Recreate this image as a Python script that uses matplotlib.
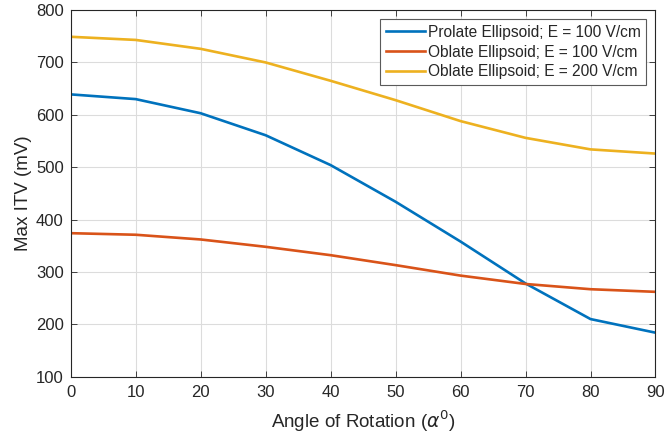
import numpy as np
import matplotlib.pyplot as plt

plt.rcParams['font.family'] = ['Liberation Sans', 'DejaVu Sans']

# rotation angle (degrees) and max induced transmembrane voltage (mV)
angle = [0, 10, 20, 30, 40, 50, 60, 70, 80, 90]
prolate_100 = [639, 630, 603, 561, 504, 434, 358, 278, 210, 184]
oblate_100 = [374, 371, 362, 348, 332, 313, 293, 277, 267, 262]
oblate_200 = [749, 743, 726, 700, 665, 628, 588, 556, 534, 526]

labels = ['Prolate Ellipsoid; E = 100 V/cm',
          'Oblate Ellipsoid; E = 100 V/cm',
          'Oblate Ellipsoid; E = 200 V/cm']
colors = ['#0072BD', '#D95319', '#EDB120']

fig = plt.figure(figsize=(6.65, 4.38), dpi=100)
ax = fig.add_axes([0.1063, 0.14, 0.8794, 0.837])

for ys, lab, c in zip([prolate_100, oblate_100, oblate_200], labels, colors):
    ax.plot(angle, ys, color=c, lw=1.9, label=lab)

ax.set_xlim(0, 90)
ax.set_ylim(100, 800)
ax.set_xticks(np.arange(0, 91, 10))
ax.set_yticks(np.arange(100, 801, 100))

axc = '#262626'
ax.grid(True, color='#dcdcdc', lw=0.8)
ax.set_axisbelow(True)
ax.tick_params(direction='in', top=True, right=True, length=4, width=0.6,
               colors=axc, labelsize=12, labelcolor=axc)
ax.tick_params(axis='x', pad=6)
ax.tick_params(axis='y', pad=5)
for s in ax.spines.values():
    s.set_color(axc)
    s.set_linewidth(0.8)

ax.set_xlabel(r'Angle of Rotation ($\alpha^0$)', fontsize=13.5, color=axc, labelpad=6)
ax.set_ylabel('Max ITV (mV)', fontsize=13.5, color=axc, labelpad=3)

leg = ax.legend(loc='upper right', fontsize=11.2, fancybox=False, framealpha=1,
                edgecolor='#5a5a5a', handlelength=2.5, handletextpad=0.2,
                borderpad=0.35, labelspacing=0.3, borderaxespad=0.6)
leg.get_frame().set_linewidth(0.8)
for t in leg.get_texts():
    t.set_color(axc)

fig.savefig('out.png', dpi=100)
